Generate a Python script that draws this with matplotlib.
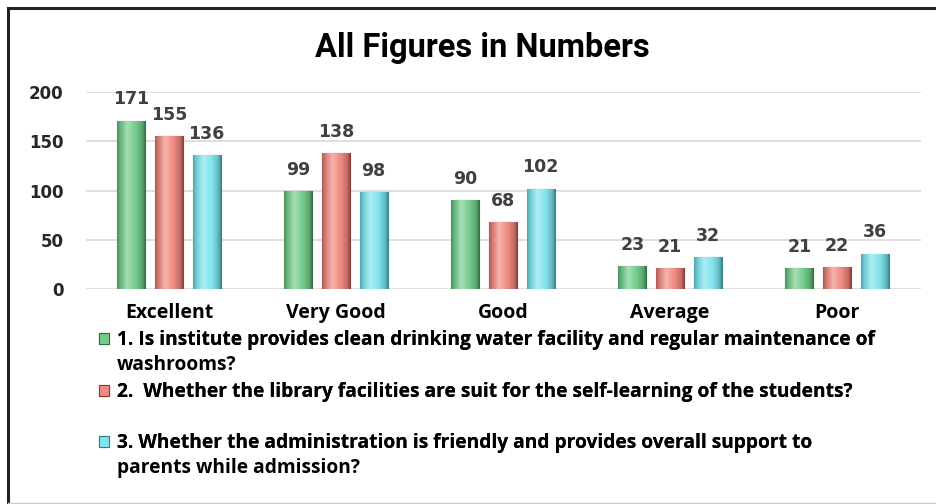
import numpy as np
import matplotlib
matplotlib.use("Agg")
import matplotlib.pyplot as plt
from matplotlib.colors import LinearSegmentedColormap, to_rgb
from matplotlib.lines import Line2D

categories = ["Excellent", "Very Good", "Good", "Average", "Poor"]
series_first = [
    "1. Is institute provides clean drinking water facility and regular maintenance of",
    "2.  Whether the library facilities are suit for the self-learning of the students?",
    "3. Whether the administration is friendly and provides overall support to",
]
series_second = ["washrooms?", "", "parents while admission?"]
water = [171, 99, 90, 23, 21]
library = [155, 138, 68, 21, 22]
admin = [136, 98, 102, 32, 36]
yticks = [0, 50, 100, 150, 200]

series = [water, library, admin]
colors = ["#74cc8c", "#ef8a80", "#80e4ee"]
darks = ["#2f6e42", "#8a3a34", "#2f7f88"]

fig = plt.figure(figsize=(9.36, 5.04), dpi=100)
fig.patch.set_facecolor("white")
ax = fig.add_axes([85.5 / 936, 1 - 289 / 504, (920.5 - 85.5) / 936, (289 - 92) / 504])

x = np.arange(len(categories))
width = 0.168
step = 0.225
containers = []
for i, (vals, c, d) in enumerate(zip(series, colors, darks)):
    bc = ax.bar(x + (i - 1) * step, vals, width, color=c, edgecolor=d, linewidth=0.8,
                zorder=2)
    containers.append(bc)
    base = np.array(to_rgb(c))
    dk = np.array(to_rgb(d))
    light = base + (1 - base) * 0.35
    cmap = LinearSegmentedColormap.from_list(
        "g%d" % i,
        [(0, dk * 0.6 + base * 0.4), (0.12, base * 0.9), (0.35, light), (0.65, base),
         (0.88, base * 0.8), (1, dk)])
    grad = np.linspace(0, 1, 64).reshape(1, -1)
    for p in bc.patches:
        x0, y0 = p.get_x(), p.get_y()
        w, h = p.get_width(), p.get_height()
        im = ax.imshow(grad, cmap=cmap, aspect="auto", extent=(x0, x0 + w, y0, y0 + h),
                       zorder=2.5, interpolation="bilinear")
        im.set_clip_path(p)
    ax.bar_label(bc, padding=9, fontsize=12.5, color="#404040", fontweight="bold",
                 family="DejaVu Sans")

ax.set_xlim(-0.5, len(categories) - 0.5)
ax.set_ylim(0, 200)
ax.set_yticks(yticks)
ax.set_xticks(x)
ax.set_xticklabels(categories, fontsize=14, fontweight="bold", family="Open Sans")
for lab in ax.get_yticklabels():
    lab.set_fontsize(12)
    lab.set_fontweight("bold")
    lab.set_color("#262626")
    lab.set_family("DejaVu Sans")
ax.tick_params(axis="both", length=0)
ax.tick_params(axis="y", pad=16)
ax.tick_params(axis="x", pad=10)
ax.grid(axis="y", color="#d9d9d9", linewidth=1.2, zorder=0)
ax.set_axisbelow(True)
for s in ax.spines.values():
    s.set_visible(False)

fig.text(482 / 936, 1 - 48 / 504, "All Figures in Numbers", ha="center", va="center",
         fontsize=23.5, fontweight="bold", family=["Roboto", "DejaVu Sans"])

legprop = {"family": "Open Sans", "weight": "bold", "size": 13.8}
ypos = [340, 392, 443]
legs = []
for i, bc in enumerate(containers):
    leg = fig.legend([bc], [series_first[i]], loc="center left",
                     bbox_to_anchor=(99 / 936, 1 - ypos[i] / 504), frameon=False,
                     handlelength=0.5, handleheight=0.5, handletextpad=0.45,
                     borderpad=0, borderaxespad=0, prop=legprop)
    fig.add_artist(leg)
    legs.append(leg)

fig.canvas.draw()
inv = fig.transFigure.inverted()
for i, leg in enumerate(legs):
    if series_second[i]:
        bb = leg.get_texts()[0].get_window_extent()
        fx, fy = inv.transform((bb.x0, bb.y0))
        fig.text(fx, fy - 25 / 504, series_second[i], ha="left", va="bottom",
                 fontproperties=leg.get_texts()[0].get_fontproperties())

fig.add_artist(Line2D([8 / 936, 8 / 936], [0, 1 - 8 / 504], color="#222222", linewidth=2.2))
fig.add_artist(Line2D([8 / 936, 1], [1 - 8 / 504, 1 - 8 / 504], color="#222222", linewidth=2.2))
fig.add_artist(Line2D([8 / 936, 1], [1 / 504, 1 / 504], color="#cccccc", linewidth=1))

fig.savefig("out.png", dpi=100, facecolor="white")
